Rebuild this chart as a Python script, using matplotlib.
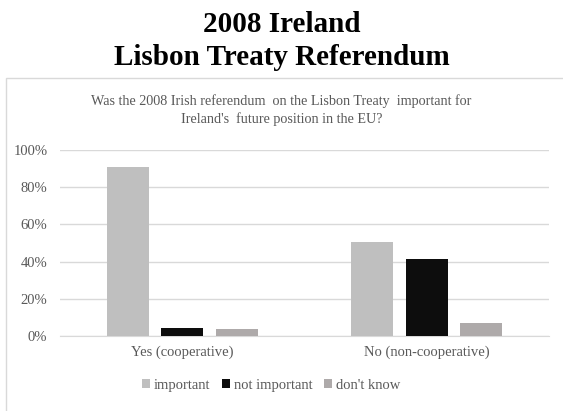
import matplotlib.pyplot as plt
import numpy as np
from matplotlib.patches import Rectangle

plt.rcParams['font.family'] = ['Liberation Serif', 'DejaVu Serif']

categories = ["Yes (cooperative)", "No (non-cooperative)"]
series = ["important", "not important", "don't know"]
important = [0.91, 0.507]
not_important = [0.045, 0.414]
dont_know = [0.035, 0.07]
colors = ["#BFBFBF", "#0D0D0D", "#AEAAAA"]

W, H = 563, 411
fig = plt.figure(figsize=(W / 100, H / 100), dpi=100)

# chart area border
fig.patches.append(Rectangle((6 / W, -0.01), 1.0, (H - 78) / H + 0.01,
                             transform=fig.transFigure, fill=False,
                             edgecolor="#D9D9D9", linewidth=1.0))

fig.text(0.5, (H - 41) / H, "2008 Ireland\nLisbon Treaty Referendum",
         ha="center", va="center", fontsize=21, fontweight="bold",
         linespacing=1.3)
fig.text(0.5, (H - 110) / H,
         "Was the 2008 Irish referendum  on the Lisbon Treaty  important for\nIreland's  future position in the EU?",
         ha="center", va="center", fontsize=10.2, color="#595959",
         linespacing=1.4)

ax = fig.add_axes([60 / W, (H - 336) / H, 489 / W, 186 / H])
x = np.arange(len(categories))
w = 0.172
step = 0.222
for i, (vals, name) in enumerate(zip([important, not_important, dont_know], series)):
    ax.bar(x + (i - 1) * step, vals, width=w, color=colors[i], label=name, zorder=3)

ax.set_xlim(-0.5, 1.5)
ax.set_ylim(0, 1.0)
ax.set_yticks(np.arange(0, 1.01, 0.2))
ax.set_yticklabels([f"{int(round(v * 100))}%" for v in np.arange(0, 1.01, 0.2)])
ax.set_xticks(x)
ax.set_xticklabels(categories)
ax.grid(axis="y", color="#D9D9D9", linewidth=1.0, zorder=0)
for s in ["top", "right", "left"]:
    ax.spines[s].set_visible(False)
ax.spines["bottom"].set_color("#D9D9D9")
ax.tick_params(length=0, colors="#595959", labelsize=10.5)
ax.tick_params(axis="y", pad=9)
ax.tick_params(axis="x", pad=7)

ax.legend(loc="center", bbox_to_anchor=((271 - 60) / 489, (385 - 336) / -186), ncol=3,
          frameon=False, fontsize=10.5, handlelength=0.55, handleheight=0.55,
          handletextpad=0.25, columnspacing=0.8, labelcolor="#595959")

fig.savefig("out.png", dpi=100)
